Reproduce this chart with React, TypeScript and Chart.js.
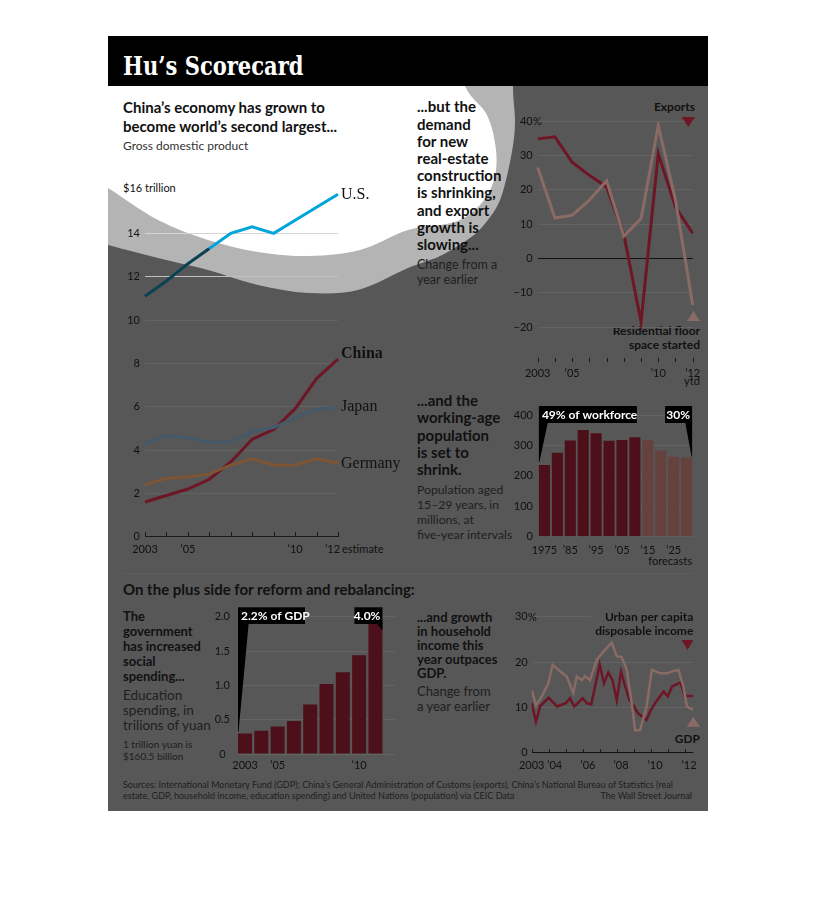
import React, { useEffect, useRef } from "react";
import { Chart, registerables } from "chart.js";

Chart.register(...registerables);

// ===================== DATA =====================
// GDP, trillions of dollars
const gdpYears = ["2003", "2004", "2005", "2006", "2007", "2008", "2009", "2010", "2011", "2012"];
const gdpTickLabels = ["2003", "", "\u201905", "", "", "", "", "\u201910", "", "\u201912\u2002\u2002"];
const gdpUS = [11.1, 11.8, 12.6, 13.3, 14.0, 14.3, 14.0, 14.6, 15.2, 15.8];
const gdpJapan = [4.3, 4.65, 4.57, 4.36, 4.36, 4.85, 5.04, 5.5, 5.87, 5.98];
const gdpGermany = [2.4, 2.7, 2.75, 2.9, 3.3, 3.6, 3.3, 3.3, 3.6, 3.4];
const gdpChina = [1.6, 1.9, 2.2, 2.65, 3.45, 4.5, 4.95, 5.9, 7.3, 8.2];

// Exports / residential floor space started, % change
const tradeYears = ["2003", "2004", "2005", "2006", "2007", "2008", "2009", "2010", "2011", "2012"];
const tradeTickLabels = ["2003", "", "\u201905", "", "", "", "", "\u201910", "", "\u201912"];
const exportsGrowth = [34.8, 35.4, 28.0, 24.2, 20.8, 7.0, -18.4, 30.5, 15.0, 7.3];
const floorSpaceGrowth = [26.5, 11.8, 12.6, 17.0, 22.6, 6.5, 11.6, 38.7, 17.0, -13.5];

// Population aged 15-29, millions
const popYears = ["1975", "1980", "1985", "1990", "1995", "2000", "2005", "2010", "2015", "2020", "2025", "2030"];
const popTickLabels = ["1975", "", "\u201985", "", "\u201995", "", "\u201905", "", "\u201915", "", "\u201925", ""];
const popValues = [236, 276, 316, 351, 340, 315, 318, 327, 318, 283, 263, 260];
const popForecastFrom = 8;

// Education spending, trillions of yuan
const eduYears = [2003, 2004, 2005, 2006, 2007, 2008, 2009, 2010, 2011];
const eduValues = [0.3, 0.34, 0.4, 0.48, 0.72, 1.02, 1.19, 1.44, 1.95];
const eduTickYears = [2003, 2005, 2010];
const eduTickLabels = ["2003", "\u201905", "\u201910"];

// Household income vs GDP, % change (quarterly readings)
const urbanX = [2003.0, 2003.25, 2003.5, 2004.0, 2004.5, 2005.0, 2005.25, 2005.5, 2006.0, 2006.25, 2006.5, 2007.0, 2007.25, 2007.5, 2007.75, 2008.0, 2008.25, 2008.5, 2008.75, 2009.0, 2009.25, 2009.75, 2010.0, 2010.25, 2010.75, 2011.0, 2011.25, 2011.75, 2012.0, 2012.5];
const urbanY = [10.9, 6.8, 10.3, 12.1, 10.2, 10.9, 12.0, 10.2, 12.0, 10.9, 10.7, 19.4, 15.3, 17.7, 16.0, 11.6, 17.9, 14.6, 11.6, 10.3, 8.7, 7.2, 9.4, 10.9, 13.5, 12.4, 14.6, 15.5, 12.5, 12.5];
const gdpGrowthX = [2003.0, 2003.25, 2003.59, 2003.98, 2004.23, 2004.56, 2005.06, 2005.45, 2005.65, 2005.94, 2006.14, 2006.43, 2006.82, 2007.21, 2007.7, 2008.0, 2008.29, 2008.59, 2008.88, 2009.08, 2009.37, 2009.76, 2010.06, 2010.55, 2010.94, 2011.33, 2011.62, 2011.92, 2012.12, 2012.5];
const gdpGrowthY = [13.8, 10.5, 12.4, 15.3, 19.4, 18.3, 16.8, 13.1, 16.8, 16.0, 16.9, 16.0, 20.5, 22.3, 24.3, 21.3, 21.1, 18.3, 10.9, 4.9, 5.0, 10.2, 18.3, 17.5, 17.5, 18.0, 18.3, 14.6, 10.2, 9.4];
const incomeTickPos = [2003, 2004.35, 2006.3, 2008.25, 2010.25, 2012.25];
const incomeTickLabels = ["2003", "\u201904", "\u201906", "\u201908", "\u201910", "\u201912"];
const incomeMarkYears = [2003, 2004, 2005, 2006, 2007, 2008, 2009, 2010, 2011, 2012];

// ===================== STYLE =====================
const SANS = "Lato, 'Noto Sans', sans-serif";
const SERIF = "'Liberation Serif', 'DejaVu Serif', serif";
const BG_DARK = "#575757";
const RING = "#b4b4b4";
const RED = "#6e1526";
const LIGHT = "#8a6a64";
const BAR = "#4d101a";
const BAR_F = "#66423f";
const GRID = "#636363";
const INK = "#111111";
const SOFT = "#1e1e1e";

Chart.defaults.font.family = SANS;
Chart.defaults.font.size = 11;
Chart.defaults.color = INK;

const fixW = (w: number) => (s: any) => { s.width = w; };
const fixH = (h: number) => (s: any) => { s.height = h; };
const minus = (v: number) => (v < 0 ? "\u2212" + Math.abs(v) : String(v));

// ===================== PLUGINS =====================
const tickMarks = {
  id: "tickMarks",
  beforeDatasetsDraw(chart: any, _a: any, opts: any) {
    if (!opts || !opts.values) return;
    const xs = chart.scales.x;
    const ctx = chart.ctx;
    const y0 = opts.atValue !== undefined ? chart.scales.y.getPixelForValue(opts.atValue) : chart.chartArea.bottom;
    ctx.save();
    ctx.strokeStyle = opts.color || INK;
    ctx.lineWidth = 1;
    opts.values.forEach((v: number) => {
      const x = Math.round(xs.getPixelForValue(v)) + 0.5;
      ctx.beginPath();
      ctx.moveTo(x, Math.round(y0));
      ctx.lineTo(x, Math.round(y0) - opts.len);
      ctx.stroke();
    });
    ctx.restore();
  },
};

const endLabels = {
  id: "endLabels",
  afterDatasetsDraw(chart: any) {
    const ctx = chart.ctx;
    chart.data.datasets.forEach((ds: any, i: number) => {
      if (!ds.endLabel) return;
      const meta = chart.getDatasetMeta(i);
      const pt = meta.data[meta.data.length - 1];
      ctx.save();
      ctx.font = ds.endFont;
      ctx.fillStyle = INK;
      ctx.textBaseline = "middle";
      ctx.textAlign = "left";
      ctx.fillText(ds.endLabel, pt.x + 3, pt.y + (ds.endDy || 0));
      ctx.restore();
    });
  },
};

const callouts = {
  id: "callouts",
  afterDatasetsDraw(chart: any, _a: any, opts: any) {
    if (!opts || !opts.items) return;
    const ctx = chart.ctx;
    const meta = chart.getDatasetMeta(0);
    const top = chart.chartArea.top;
    opts.items.forEach((it: any) => {
      const bar = meta.data[it.index];
      const half = bar.width / 2;
      const bl = bar.x - half;
      const br = bar.x + half;
      const by = top + it.dy;
      const bb = by + it.h;
      const bx = it.side === "left" ? bl : br - it.w;
      const tipY = it.tipBox ? bb + it.tipBox : bar.y - it.gap;
      ctx.save();
      ctx.fillStyle = "#000";
      ctx.fillRect(bx, by, it.w, it.h);
      ctx.beginPath();
      if (it.side === "left") {
        ctx.moveTo(bl, bb - 1);
        ctx.lineTo(bl + it.wedge, bb - 1);
        ctx.lineTo(bl + 0.5, tipY);
        ctx.lineTo(bl, tipY);
      } else {
        ctx.moveTo(br, bb - 1);
        ctx.lineTo(br - it.wedge, bb - 1);
        ctx.lineTo(br - 0.5, tipY);
        ctx.lineTo(br, tipY);
      }
      ctx.closePath();
      ctx.fill();
      ctx.fillStyle = "#fff";
      ctx.font = "bold 12px " + SANS;
      ctx.textBaseline = "middle";
      if (it.side === "left") {
        ctx.textAlign = "left";
        ctx.fillText(it.text, bx + 3, by + it.h / 2 + 0.5);
      } else {
        ctx.textAlign = "right";
        ctx.fillText(it.text, bx + it.w - 2, by + it.h / 2 + 0.5);
      }
      ctx.restore();
    });
  },
};

const baseOpts = {
  animation: false as const,
  responsive: false,
  maintainAspectRatio: false,
  events: [] as any[],
};

// ===================== CHART CONFIGS =====================
function cfgGDP(): any {
  const gridCol = (v: number) =>
    v === 16 ? "rgba(0,0,0,0)" : v === 14 ? "#d6d6d6" : v === 12 ? "#c2c2c2" : v === 0 ? "#1a1a1a" : GRID;
  return {
    type: "line",
    data: {
      labels: gdpYears,
      datasets: [
        {
          data: gdpUS, borderColor: "#00a3da", borderWidth: 3,
          segment: { borderColor: (c: any) => (c.p0DataIndex < 3 ? "#0b4253" : undefined) },
          endLabel: "U.S.", endFont: "16px " + SERIF, endDy: 0,
        },
        { data: gdpJapan, borderColor: "#44596a", borderWidth: 3, endLabel: "Japan", endFont: "16px " + SERIF, endDy: 0 },
        { data: gdpGermany, borderColor: "#7e5534", borderWidth: 3, endLabel: "Germany", endFont: "16px " + SERIF, endDy: 1 },
        { data: gdpChina, borderColor: RED, borderWidth: 3, endLabel: "China", endFont: "bold 16px " + SERIF, endDy: -5 },
      ],
    },
    options: {
      ...baseOpts,
      layout: { padding: { top: 20, left: 0, right: 70, bottom: 0 } },
      elements: { point: { radius: 0 }, line: { tension: 0, borderCapStyle: "butt" } },
      plugins: { legend: { display: false }, tooltip: { enabled: false }, tickMarks: { values: [0, 1, 2, 3, 4, 5, 6, 7, 8, 9], atValue: 0, len: 5, color: "#1a1a1a" } },
      scales: {
        x: {
          type: "category", offset: false,
          grid: { display: false, drawTicks: false }, border: { display: false },
          ticks: { autoSkip: false, maxRotation: 0, padding: 6, color: INK, callback: (_v: any, i: number) => gdpTickLabels[i] },
          afterFit: fixH(28.3),
        },
        y: {
          min: 0, max: 16,
          ticks: { stepSize: 2, padding: 5, color: INK, callback: (v: number) => (v === 16 ? "" : String(v)) },
          grid: { drawTicks: false, color: (c: any) => gridCol(c.tick ? c.tick.value : -1), lineWidth: 1 },
          border: { display: false },
          afterFit: fixW(37),
        },
      },
    },
    plugins: [tickMarks, endLabels],
  };
}

function cfgTrade(): any {
  const gridCol = (v: number) => (v === -30 ? "rgba(0,0,0,0)" : v === 0 ? "#111" : GRID);
  return {
    type: "line",
    data: {
      labels: tradeYears,
      datasets: [
        { data: floorSpaceGrowth, borderColor: LIGHT, borderWidth: 3 },
        { data: exportsGrowth, borderColor: RED, borderWidth: 3 },
      ],
    },
    options: {
      ...baseOpts,
      layout: { padding: { top: 21, left: 0, right: 15.3, bottom: 0 } },
      elements: { point: { radius: 0 }, line: { tension: 0, borderCapStyle: "butt" } },
      plugins: { legend: { display: false }, tooltip: { enabled: false }, tickMarks: { values: [0, 1, 2, 3, 4, 5, 6, 7, 8, 9], atValue: -30, len: 4, color: "#1a1a1a" } },
      scales: {
        x: {
          type: "category", offset: false,
          grid: { display: false, drawTicks: false }, border: { display: false },
          ticks: { autoSkip: false, maxRotation: 0, padding: 5, color: INK, callback: (_v: any, i: number) => tradeTickLabels[i] },
          afterFit: fixH(33.3),
        },
        y: {
          min: -30, max: 40,
          ticks: { stepSize: 10, padding: 5, color: INK, callback: (v: number) => (v === -30 ? "" : minus(v)) },
          grid: { drawTicks: false, color: (c: any) => gridCol(c.tick ? c.tick.value : 99), lineWidth: 1 },
          border: { display: false },
          afterFit: fixW(37.7),
        },
      },
    },
    plugins: [tickMarks],
  };
}

function cfgPop(): any {
  return {
    type: "bar",
    data: {
      labels: popYears,
      datasets: [
        {
          data: popValues,
          backgroundColor: popValues.map((_v, i) => (i >= popForecastFrom ? BAR_F : BAR)),
          barPercentage: 0.86, categoryPercentage: 1.0,
        },
      ],
    },
    options: {
      ...baseOpts,
      layout: { padding: { top: 20, left: 0, right: 15, bottom: 0 } },
      plugins: {
        legend: { display: false }, tooltip: { enabled: false },
        callouts: {
          items: [
            { index: 0, side: "left", text: "49% of workforce", dy: -9, h: 17, w: 98, wedge: 9, gap: 3 },
            { index: popValues.length - 1, side: "right", text: "30%", dy: -9, h: 17, w: 27, wedge: 7, gap: 1 },
          ],
        },
      },
      scales: {
        x: {
          grid: { display: false, drawTicks: false }, border: { display: false },
          ticks: { autoSkip: false, maxRotation: 0, padding: 7, color: INK, callback: (_v: any, i: number) => popTickLabels[i] },
          afterFit: fixH(38.3),
        },
        y: {
          min: 0, max: 400,
          ticks: { stepSize: 100, padding: 5, color: INK },
          grid: { drawTicks: false, color: GRID, lineWidth: 1 },
          border: { display: false },
          afterFit: fixW(38),
        },
      },
    },
    plugins: [callouts],
  };
}

function cfgEdu(): any {
  return {
    type: "bar",
    data: {
      datasets: [
        {
          data: eduYears.map((y, i) => ({ x: y, y: eduValues[i] })),
          backgroundColor: BAR, barPercentage: 0.86, categoryPercentage: 1.0,
        },
      ],
    },
    options: {
      ...baseOpts,
      layout: { padding: { top: 18.7, left: 0, right: 13, bottom: 0 } },
      plugins: {
        legend: { display: false }, tooltip: { enabled: false },
        callouts: {
          items: [
            { index: 0, side: "left", text: "2.2% of GDP", dy: -9.4, h: 16.7, w: 67, wedge: 10.7, gap: 1.5 },
            { index: eduValues.length - 1, side: "right", text: "4.0%", dy: -9.4, h: 16.7, w: 28, wedge: 6, tipBox: 6 },
          ],
        },
      },
      scales: {
        x: {
          type: "linear", offset: false, min: 2002.57, max: 2012.2,
          afterBuildTicks: (s: any) => { s.ticks = eduTickYears.map((v) => ({ value: v })); },
          grid: { display: false, drawTicks: false, offset: false }, border: { display: false },
          ticks: { autoSkip: false, maxRotation: 0, padding: 5, color: INK, callback: (v: number) => eduTickLabels[eduTickYears.indexOf(v)] || "" },
          afterFit: fixH(21),
        },
        y: {
          min: 0, max: 2,
          ticks: { stepSize: 0.5, padding: 8, color: INK, crossAlign: "center", callback: (v: number) => (v === 0 ? "0" : v.toFixed(1)) },
          grid: { drawTicks: false, color: GRID, lineWidth: 1 },
          border: { display: false },
          afterFit: fixW(38),
        },
      },
    },
    plugins: [callouts],
  };
}

function cfgIncome(): any {
  const gridCol = (v: number) => (v === 0 ? "#111" : GRID);
  return {
    type: "line",
    data: {
      datasets: [
        { data: gdpGrowthX.map((x, i) => ({ x, y: gdpGrowthY[i] })), borderColor: LIGHT, borderWidth: 2.5 },
        { data: urbanX.map((x, i) => ({ x, y: urbanY[i] })), borderColor: RED, borderWidth: 2.5 },
      ],
    },
    options: {
      ...baseOpts,
      layout: { padding: { top: 18.7, left: 0, right: 14.7, bottom: 0 } },
      elements: { point: { radius: 0 }, line: { tension: 0, borderCapStyle: "butt" } },
      plugins: { legend: { display: false }, tooltip: { enabled: false }, tickMarks: { values: incomeMarkYears, atValue: 0, len: 4, color: "#1a1a1a" } },
      scales: {
        x: {
          type: "linear", min: 2003, max: 2012.5,
          afterBuildTicks: (s: any) => { s.ticks = incomeTickPos.map((v) => ({ value: v })); },
          grid: { display: false, drawTicks: false }, border: { display: false },
          ticks: { autoSkip: false, maxRotation: 0, padding: 6, color: INK, callback: (v: number) => incomeTickLabels[incomeTickPos.indexOf(v)] || "" },
          afterFit: fixH(22.3),
        },
        y: {
          min: 0, max: 30,
          ticks: { stepSize: 10, padding: 4, color: INK },
          grid: { drawTicks: false, color: (c: any) => gridCol(c.tick ? c.tick.value : 5), lineWidth: 1 },
          border: { display: false },
          afterFit: fixW(31.7),
        },
      },
    },
    plugins: [tickMarks],
  };
}

// ===================== DECOR HELPERS =====================
function smoothPath(pts: number[][]) {
  let d = `M${pts[0][0]},${pts[0][1]}`;
  for (let i = 0; i < pts.length - 1; i++) {
    const p0 = pts[i - 1] || pts[i];
    const p1 = pts[i];
    const p2 = pts[i + 1];
    const p3 = pts[i + 2] || p2;
    const c1x = p1[0] + (p2[0] - p0[0]) / 6;
    const c1y = p1[1] + (p2[1] - p0[1]) / 6;
    const c2x = p2[0] - (p3[0] - p1[0]) / 6;
    const c2y = p2[1] - (p3[1] - p1[1]) / 6;
    d += ` C${c1x.toFixed(1)},${c1y.toFixed(1)} ${c2x.toFixed(1)},${c2y.toFixed(1)} ${p2[0]},${p2[1]}`;
  }
  return d;
}

const outerPts = [[407, -10], [405, 50], [407, 87], [403, 121], [392, 164], [375, 190], [359, 204], [332, 220], [300, 232], [250, 254], [200, 257], [150, 249], [100, 234], [50, 222], [0, 209], [-20, 203]];
const innerPts = [[340, -10], [357, 50], [379, 79], [388, 114], [386, 144], [372, 169], [347, 186], [300, 194], [252, 214], [200, 220], [150, 216], [100, 204], [50, 184], [0, 152], [-20, 140]];

type TxtProps = { x: number; y: number; lh?: number; size?: number; weight?: number; color?: string; align?: "left" | "right" | "center"; family?: string; children: React.ReactNode; style?: React.CSSProperties };
function Txt({ x, y, lh = 16, size = 12, weight = 400, color = INK, align = "left", family = SANS, children, style }: TxtProps) {
  const s: React.CSSProperties = {
    position: "absolute", top: y - lh / 2, lineHeight: lh + "px", fontSize: size, fontWeight: weight,
    color, fontFamily: family, whiteSpace: "pre", margin: 0,
  };
  if (align === "right") { s.right = 600 - x; s.textAlign = "right"; }
  else if (align === "center") { s.left = x; s.transform = "translateX(-50%)"; }
  else s.left = x;
  return <div style={{ ...s, ...style }}>{children}</div>;
}

export default function App() {
  const refA = useRef<HTMLCanvasElement>(null);
  const refB = useRef<HTMLCanvasElement>(null);
  const refC = useRef<HTMLCanvasElement>(null);
  const refD = useRef<HTMLCanvasElement>(null);
  const refE = useRef<HTMLCanvasElement>(null);

  useEffect(() => {
    const charts: Chart[] = [];
    if (refA.current) charts.push(new Chart(refA.current, cfgGDP()));
    if (refB.current) charts.push(new Chart(refB.current, cfgTrade()));
    if (refC.current) charts.push(new Chart(refC.current, cfgPop()));
    if (refD.current) charts.push(new Chart(refD.current, cfgEdu()));
    if (refE.current) charts.push(new Chart(refE.current, cfgIncome()));
    return () => charts.forEach((c) => c.destroy());
  }, []);

  const cv = (left: number, top: number): React.CSSProperties => ({ position: "absolute", left, top });
  const B = 700;

  return (
    <div style={{ position: "relative", width: 800, height: 890 }}>
      <div style={{ position: "absolute", left: 100, top: 28, width: 600, height: 775, background: BG_DARK, overflow: "hidden", fontFamily: SANS }}>
        <svg width={600} height={775} style={{ position: "absolute", left: 0, top: 0 }}>
          <path d={smoothPath(outerPts) + " L-20,-20 Z"} fill={RING} />
          <path d={smoothPath(innerPts) + " L-20,-20 Z"} fill="#ffffff" />
          <line x1={15} x2={585} y1={537.5} y2={537.5} stroke="#5f5f5f" strokeWidth={1} />
        </svg>

        <div style={{ position: "absolute", left: 0, top: 0, width: 600, height: 50, background: "#000" }} />
        <Txt x={15} y={29.5} lh={32} size={26} weight={700} color="#fff"
          family="'DejaVu Serif Condensed', 'DejaVu Serif', serif"
          style={{ fontStretch: "condensed", transform: "scaleX(0.9)", transformOrigin: "0 50%" }}>
          {"Hu\u2019s Scorecard"}
        </Txt>

        {/* Panel 1 text */}
        <Txt x={15} y={71} lh={19} size={15} weight={B}>{"China\u2019s economy has grown to\nbecome world\u2019s second largest..."}</Txt>
        <Txt x={15} y={110} lh={16} size={12} color="#333">Gross domestic product</Txt>
        <Txt x={15} y={152} lh={14} size={11}>$16 trillion</Txt>
        <Txt x={234} y={513} lh={14} size={11}>estimate</Txt>

        {/* Panel 2 text */}
        <Txt x={309} y={71} lh={17.2} size={15} weight={B}>{"...but the\ndemand\nfor new\nreal-estate\nconstruction\nis shrinking,\nand export\ngrowth is\nslowing..."}</Txt>
        <Txt x={309} y={228} lh={15} size={12.5} color={SOFT}>{"Change from a\nyear earlier"}</Txt>
        <Txt x={587} y={71} lh={14} size={12} weight={B} align="right">Exports</Txt>
        <Txt x={592} y={295} lh={14} size={12} weight={B} align="right">{"Residential floor\nspace started"}</Txt>
        <Txt x={425} y={85} lh={14} size={11}>%</Txt>
        <Txt x={584} y={345} lh={14} size={11} align="center">ytd</Txt>

        {/* Panel 3 text */}
        <Txt x={309} y={364.7} lh={17.2} size={15} weight={B}>{"...and the\nworking-age\npopulation\nis set to\nshrink."}</Txt>
        <Txt x={309} y={453} lh={15} size={12.2} color={SOFT}>{"Population aged\n15\u201329 years, in\nmillions, at\nfive-year intervals"}</Txt>
        <Txt x={584} y={525} lh={14} size={11} align="right">forecasts</Txt>

        {/* Section title */}
        <Txt x={15} y={553} lh={18} size={15} weight={B}>On the plus side for reform and rebalancing:</Txt>

        {/* Panel 4 text */}
        <Txt x={15} y={580.7} lh={15} size={13} weight={B}>{"The\ngovernment\nhas increased\nsocial\nspending..."}</Txt>
        <Txt x={15} y={659} lh={15} size={13.5} color={SOFT}>{"Education\nspending, in\ntrilions of yuan"}</Txt>
        <Txt x={15} y={708} lh={12} size={10} color={SOFT}>{"1 trillion yuan is\n$160.5 billion"}</Txt>

        {/* Panel 5 text */}
        <Txt x={309} y={580.7} lh={14.2} size={13} weight={B}>{"...and growth\nin household\nincome this\nyear outpaces\nGDP."}</Txt>
        <Txt x={309} y={655.7} lh={15} size={13} color={SOFT}>{"Change from\na year earlier"}</Txt>

        {/* Footer */}
        <Txt x={15} y={748} lh={11} size={9} color={SOFT}>{"Sources: International Monetary Fund (GDP); China\u2019s General Administration of Customs (exports), China\u2019s National Bureau of Statistics (real\nestate, GDP, household income, education spending) and United Nations (population) via CEIC Data"}</Txt>
        <Txt x={584} y={759} lh={11} size={9} color={SOFT} align="right">The Wall Street Journal</Txt>

        {/* Charts */}
        <canvas ref={refA} width={300} height={395} style={cv(0, 134)} />
        <canvas ref={refB} width={208} height={295} style={cv(392, 64)} />
        <canvas ref={refC} width={208} height={180} style={cv(392, 359)} />
        <canvas ref={refD} width={208} height={177} style={cv(92, 562)} />
        <canvas ref={refE} width={208} height={177} style={cv(392, 562)} />

        {/* Labels over the income chart */}
        <Txt x={420} y={580.7} lh={14} size={11}>%</Txt>
        <Txt x={585.3} y={580.7} lh={14} size={12} weight={B} align="right" style={{ background: BG_DARK, paddingLeft: 4 }}>{"Urban per capita\ndisposable income"}</Txt>
        <Txt x={592} y={703.3} lh={14} size={12} weight={B} align="right">GDP</Txt>

        {/* Legend markers */}
        <svg width={600} height={775} style={{ position: "absolute", left: 0, top: 0, pointerEvents: "none" }}>
          <polygon points="573.7,81 587,81 580.3,91" fill={RED} />
          <polygon points="579,285 592,285 585.5,275" fill={LIGHT} />
          <polygon points="573.7,604 585.3,604 579.5,614" fill={RED} />
          <polygon points="578.7,690.7 592,690.7 585.3,680.7" fill={LIGHT} />
        </svg>
      </div>
    </div>
  );
}
